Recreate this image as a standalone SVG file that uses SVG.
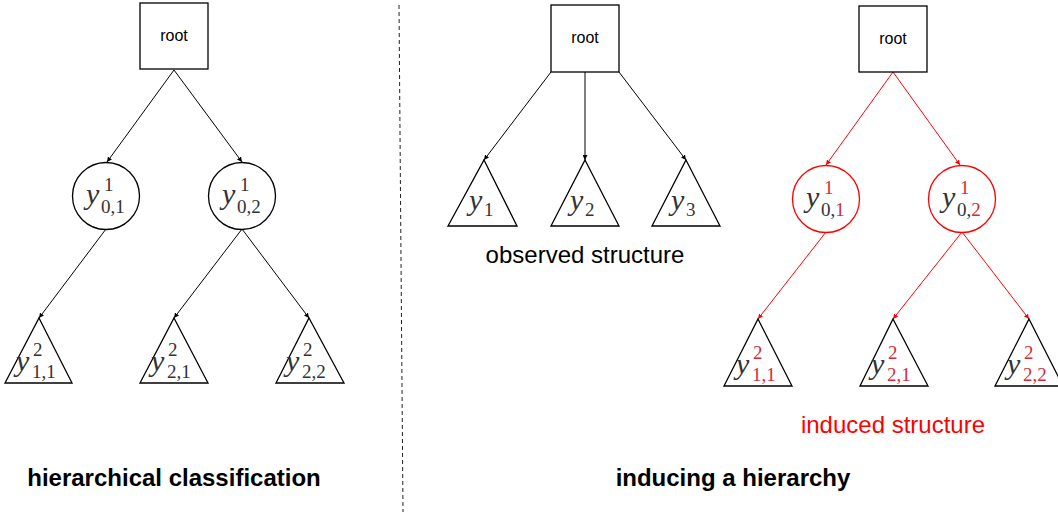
<svg xmlns="http://www.w3.org/2000/svg" width="1058" height="514" viewBox="0 0 1058 514">
<defs>
<marker id="ab" viewBox="0 0 10 10" refX="10" refY="5" markerWidth="5" markerHeight="5" orient="auto" markerUnits="userSpaceOnUse"><path d="M0,0 L10,5 L0,10 z" fill="#000"/></marker>
<marker id="ar" viewBox="0 0 10 10" refX="10" refY="5" markerWidth="5" markerHeight="5" orient="auto" markerUnits="userSpaceOnUse"><path d="M0,0 L10,5 L0,10 z" fill="#ff0000"/></marker>
</defs>
<style>
.box{fill:#fff;stroke:#000;stroke-width:1.3}
.red{fill:#fff;stroke:#ff0000;stroke-width:1.3}
.tri{fill:#fff;stroke:#000;stroke-width:1.3}
.e{fill:none;stroke:#000;stroke-width:1;marker-end:url(#ab)}
.er{fill:none;stroke:#ff0000;stroke-width:1;marker-end:url(#ar)}
.lbl{font-family:"Liberation Sans",Arial,sans-serif;font-size:16px;fill:#000;text-anchor:middle}
.my{font-family:"Liberation Serif","Times New Roman",serif;font-style:italic;font-size:30px;fill:#333}
.ms{font-family:"Liberation Serif","Times New Roman",serif;font-size:19px;fill:#333}
.mr{fill:#d42a3a}
.cap{font-family:"Liberation Sans",Arial,sans-serif;font-size:24px;text-anchor:middle}
.title{font-family:"Liberation Sans",Arial,sans-serif;font-size:24px;font-weight:bold;text-anchor:middle;fill:#000}
</style>
<rect width="1058" height="514" fill="#fff"/>
<line x1="399" y1="5" x2="403" y2="512" stroke="#222" stroke-width="1" stroke-dasharray="4,3"/>

<g id="connectors">
<line class="e" x1="174" y1="70" x2="107" y2="162"/>
<line class="e" x1="174" y1="70" x2="242" y2="162"/>
<line class="e" x1="106" y1="229" x2="39" y2="318"/>
<line class="e" x1="242" y1="229" x2="174" y2="318"/>
<line class="e" x1="242" y1="229" x2="309" y2="318"/>
<line class="e" x1="551" y1="72" x2="484" y2="160"/>
<line class="e" x1="585" y1="72" x2="585" y2="160"/>
<line class="e" x1="619" y1="72" x2="686" y2="160"/>
<line class="er" x1="893" y1="72" x2="826" y2="165"/>
<line class="er" x1="893" y1="72" x2="960" y2="165"/>
<line class="er" x1="826" y1="232" x2="758" y2="319"/>
<line class="er" x1="962" y1="232" x2="893" y2="319"/>
<line class="er" x1="962" y1="232" x2="1029" y2="319"/>
</g>

<g id="root-left"><rect class="box" x="140" y="3" width="68" height="66"/><text class="lbl" x="174" y="41">root</text></g>
<g id="y01-left"><circle class="box" cx="106" cy="196" r="33.5"/><text class="my" x="86" y="204">y</text><text class="ms" x="104" y="191">1</text><text class="ms" x="101" y="213">0,1</text></g>
<g id="y02-left"><circle class="box" cx="242" cy="196" r="33.5"/><text class="my" x="222" y="204">y</text><text class="ms" x="240" y="191">1</text><text class="ms" x="237" y="213">0,2</text></g>
<g id="y11-left"><path class="tri" d="M39,318 L72,383 L5,383 Z"/><text class="my" x="16" y="371">y</text><text class="ms" x="33" y="356">2</text><text class="ms" x="32" y="378">1,1</text></g>
<g id="y21-left"><path class="tri" d="M174,318 L208,383 L140,383 Z"/><text class="my" x="151" y="371">y</text><text class="ms" x="168" y="356">2</text><text class="ms" x="167" y="378">2,1</text></g>
<g id="y22-left"><path class="tri" d="M309,318 L344,383 L276,383 Z"/><text class="my" x="286" y="371">y</text><text class="ms" x="303" y="356">2</text><text class="ms" x="302" y="378">2,2</text></g>
<text class="title" x="174" y="486">hierarchical classification</text>

<g id="root-mid"><rect class="box" x="551" y="5" width="68" height="67"/><text class="lbl" x="585" y="43">root</text></g>
<g id="y1-mid"><path class="tri" d="M484,160 L517,226 L448,226 Z"/><text class="my" x="469" y="210">y</text><text class="ms" x="484" y="216">1</text></g>
<g id="y2-mid"><path class="tri" d="M585,160 L619,226 L551,226 Z"/><text class="my" x="570" y="210">y</text><text class="ms" x="585" y="216">2</text></g>
<g id="y3-mid"><path class="tri" d="M686,160 L720,226 L652,226 Z"/><text class="my" x="671" y="210">y</text><text class="ms" x="686" y="216">3</text></g>
<text class="cap" x="585" y="263" fill="#000">observed structure</text>

<g id="root-right"><rect class="box" x="859" y="6" width="68" height="66"/><text class="lbl" x="893" y="44">root</text></g>
<g id="y01-right"><circle class="red" cx="826" cy="199" r="33.5"/><text class="my" x="806" y="207">y</text><text class="ms mr" x="824" y="194">1</text><text class="ms" x="821" y="216">0,<tspan class="mr">1</tspan></text></g>
<g id="y02-right"><circle class="red" cx="962" cy="199" r="33.5"/><text class="my" x="942" y="207">y</text><text class="ms mr" x="960" y="194">1</text><text class="ms" x="957" y="216">0,<tspan class="mr">2</tspan></text></g>
<g id="y11-right"><path class="tri" d="M758,319 L792,386 L724,386 Z"/><text class="my" x="736" y="374">y</text><text class="ms mr" x="753" y="359">2</text><text class="ms mr" x="752" y="381">1,1</text></g>
<g id="y21-right"><path class="tri" d="M893,319 L928,386 L860,386 Z"/><text class="my" x="871" y="374">y</text><text class="ms mr" x="888" y="359">2</text><text class="ms mr" x="887" y="381">2,1</text></g>
<g id="y22-right"><path class="tri" d="M1029,319 L1063,386 L995,386 Z"/><text class="my" x="1007" y="374">y</text><text class="ms mr" x="1024" y="359">2</text><text class="ms mr" x="1023" y="381">2,2</text></g>
<text class="cap" x="893" y="433" fill="#ff0000">induced structure</text>
<text class="title" x="733" y="486">inducing a hierarchy</text>
</svg>
